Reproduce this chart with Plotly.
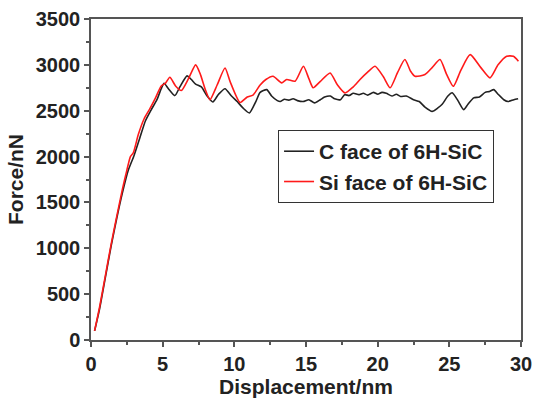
import plotly.graph_objects as go

c_x = [0.25, 0.6, 1.0, 1.4, 1.8, 2.2, 2.6, 3.0, 3.4, 3.8, 4.2, 4.6, 4.9, 5.1, 5.4, 5.85, 6.2, 6.7, 7.0, 7.3,
       7.7, 8.1, 8.5, 8.9, 9.35, 9.8, 10.2, 10.6, 11.05, 11.5, 11.8, 12.26, 12.6, 13.0, 13.2, 13.5, 13.8, 14.1,
       14.4, 14.8, 15.2, 15.6, 16.0, 16.3, 16.7, 17.0, 17.4, 17.7, 18.0, 18.3, 18.7, 19.0, 19.3, 19.7, 20.0,
       20.3, 20.6, 21.0, 21.3, 21.6, 22.0, 22.5, 22.9, 23.3, 23.8, 24.2, 24.5, 24.9, 25.2, 25.6, 26.0, 26.3,
       26.7, 27.1, 27.5, 27.8, 28.1, 28.4, 28.8, 29.1, 29.5, 29.8]
c_force = [100, 340, 680, 1020, 1330, 1610, 1850, 2010, 2200, 2390, 2510, 2620, 2740, 2800, 2740, 2665, 2760,
           2880, 2840, 2790, 2760, 2660, 2595, 2680, 2740, 2660, 2600, 2530, 2476, 2600, 2700, 2730, 2660, 2610,
           2600, 2625, 2615, 2630, 2610, 2600, 2620, 2585, 2620, 2650, 2660, 2630, 2620, 2675, 2665, 2690, 2675,
           2690, 2670, 2700, 2680, 2700, 2690, 2660, 2680, 2655, 2660, 2620, 2600, 2540, 2493, 2530, 2570, 2660,
           2695, 2610, 2512, 2570, 2640, 2650, 2700, 2710, 2730, 2680, 2620, 2600, 2620, 2630]

si_x = [0.25, 0.6, 1.0, 1.4, 1.8, 2.2, 2.5, 2.75, 2.95, 3.3, 3.7, 4.1, 4.5, 4.9, 5.2, 5.5, 5.9, 6.3, 6.8, 7.3,
        7.6, 8.0, 8.3, 8.8, 9.35, 9.7, 10.4, 10.9, 11.3, 11.8, 12.2, 12.7, 13.3, 13.65, 14.24, 14.82, 15.2, 15.5,
        16.0, 16.68, 17.2, 17.72, 18.3, 18.77, 19.3, 19.82, 20.4, 20.87, 21.4, 21.9, 22.3, 22.6, 23.3, 23.8,
        24.35, 24.8, 25.28, 25.8, 26.45, 27.2, 27.84, 28.4, 29.0, 29.47, 29.82]
si_force = [100, 360, 700, 1040, 1350, 1650, 1850, 2000, 2040, 2240, 2410, 2520, 2640, 2770, 2800, 2865, 2770,
            2720, 2850, 3000, 2910, 2720, 2620, 2780, 2965, 2820, 2590, 2650, 2670, 2780, 2840, 2876, 2803, 2840,
            2822, 2985, 2850, 2750, 2820, 2912, 2780, 2694, 2760, 2840, 2920, 2985, 2870, 2750, 2920, 3058, 2930,
            2876, 2894, 2970, 3058, 2900, 2766, 2940, 3112, 2970, 2858, 3000, 3094, 3094, 3040]

x_ticks = [0, 5, 10, 15, 20, 25, 30]
y_ticks = [0, 500, 1000, 1500, 2000, 2500, 3000, 3500]

FONT = "Liberation Sans, Arial, sans-serif"
AX = "#555555"
TXT = "#222222"

fig = go.Figure()
fig.add_trace(go.Scatter(x=c_x, y=c_force, mode="lines", name="C face of 6H-SiC",
                         line=dict(color="#222222", width=1.6, shape="spline", smoothing=0.6)))
fig.add_trace(go.Scatter(x=si_x, y=si_force, mode="lines", name="Si face of 6H-SiC",
                         line=dict(color="#ff1a1a", width=1.6, shape="spline", smoothing=0.6)))

axis_common = dict(showline=True, linecolor=AX, linewidth=1.5, mirror=True, ticks="outside",
                   ticklen=5, tickwidth=1.5, tickcolor=AX, showgrid=False, zeroline=False,
                   automargin=False,
                   tickfont=dict(family=FONT, size=20, color=TXT, weight="bold"))

fig.update_xaxes(range=[0, 30], tickvals=x_ticks,
                 minor=dict(ticks="outside", ticklen=3, tickwidth=1.5, tickcolor=AX, dtick=2.5),
                 title=dict(text="Displacement/nm", font=dict(family=FONT, size=21, color=TXT, weight="bold"),
                            standoff=6),
                 **axis_common)
fig.update_yaxes(range=[0, 3500], tickvals=y_ticks,
                 minor=dict(ticks="outside", ticklen=3, tickwidth=1.5, tickcolor=AX, dtick=250),
                 title=dict(text="Force/nN", font=dict(family=FONT, size=21, color=TXT, weight="bold"),
                            standoff=6),
                 **axis_common)

fig.update_layout(
    width=534, height=399,
    margin=dict(l=91, r=13, t=19, b=59),
    paper_bgcolor="white", plot_bgcolor="white",
    showlegend=True,
    legend=dict(x=0.435, y=0.654, xanchor="left", yanchor="top",
                bordercolor="#333333", borderwidth=1, bgcolor="white",
                font=dict(family=FONT, size=21, color=TXT, weight="bold"),
                tracegroupgap=0, itemwidth=30),
)

fig.write_html("out.html")
